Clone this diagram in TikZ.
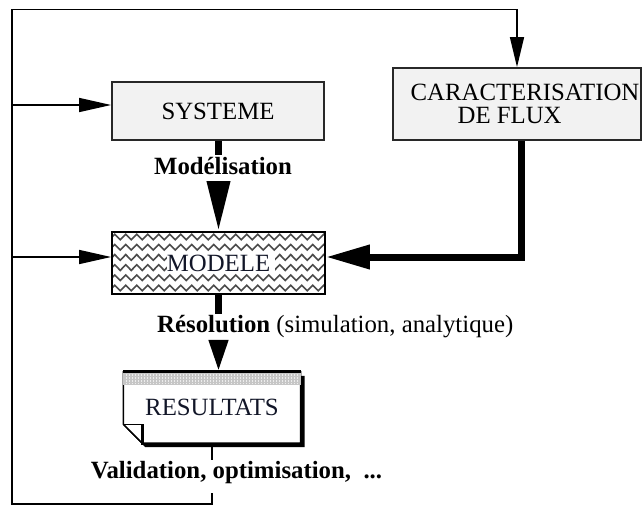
\documentclass[tikz,border=0pt]{standalone}
\usepackage{fontspec}
\setmainfont{Liberation Serif}
\usetikzlibrary{arrows.meta,decorations.pathmorphing,backgrounds}
\definecolor{boxfill}{RGB}{242,242,242}
\definecolor{boxline}{RGB}{40,40,40}
\definecolor{inktext}{RGB}{18,22,40}
\begin{document}
\begin{tikzpicture}[x=1pt,y=-1pt,
  font=\fontsize{24.8}{23.5}\selectfont,
  box/.style={draw=boxline, line width=1.8pt, fill=boxfill, inner sep=0pt},
  thinline/.style={line width=1.5pt, black},
  thickline/.style={line width=7pt, black},
  thinarrow/.style={thinline, -{Triangle[length=32pt,width=14pt]}},
  lbl/.style={inner sep=0pt},
  zig/.style={decorate, decoration={zigzag, segment length=11pt, amplitude=2.8pt},
              line width=1.6pt, black!70}
]
\useasboundingbox (0,0) rectangle (643,506);

% ---- blocks ----
\node[box, minimum width=212pt, minimum height=58pt] (sys) at (218,111) {SYSTEME};

\node[box, minimum width=248pt, minimum height=72pt, align=left] (car) at (517,104)
  {\hspace*{16pt}CARACTERISATION\\\hspace*{63pt}DE FLUX};

\node[draw=black, line width=1.8pt, inner sep=0pt, minimum width=213pt,
      minimum height=62pt, text=inktext,
      path picture={
        \foreach \r in {0,...,5}
          \draw[zig] ([yshift=-(5+10.2*\r)*1pt]path picture bounding box.north west) -- ++(240,0);
        \fill[white] (path picture bounding box.center) ++(-52,-10) rectangle ++(108,20);
      }] (mod) at (218.5,263) {MODELE};

\node[inner sep=0pt, minimum width=177pt, minimum height=71pt, text=inktext]
  (res) at (212,407.5) {RESULTATS};

% document shape with shadow, header band and folded corner
\begin{scope}[on background layer]
  \fill[black] ([shift={(4,4)}]res.north west) -- ([shift={(4,4)}]res.north east)
    -- ([shift={(4,4)}]res.south east) -- ([shift={(22,4)}]res.south west)
    -- ([shift={(4,-14)}]res.south west) -- cycle;
  \filldraw[fill=white, draw=black, line width=1.5pt]
    (res.north west) -- (res.north east) -- (res.south east)
    -- ([xshift=19pt]res.south west) -- ([shift={(0,-19)}]res.south west) -- cycle;
  \fill[gray!45] (res.north west) rectangle ([shift={(0,13)}]res.north east);
  \foreach \i in {1,...,58}
    \draw[gray!15, line width=0.9pt, dash pattern=on 2pt off 1pt] ([shift={(3*\i,2)}]res.north west) -- ++(0,10);
  \draw[black, line width=3pt] (res.north west) -- (res.north east);
  \fill[white] ([shift={(0,-19)}]res.south west) -- ([shift={(19,-19)}]res.south west)
    -- ([xshift=19pt]res.south west) -- cycle;
  \draw[black, line width=1.2pt] ([shift={(0,-19)}]res.south west) -- ([shift={(19,-19)}]res.south west);
  \draw[black, line width=3pt] ([shift={(19,-19)}]res.south west) -- ([shift={(19,2)}]res.south west);
  \draw[black, line width=1.5pt] ([shift={(0,-19)}]res.south west) -- ([xshift=19pt]res.south west);
\end{scope}

% ---- labels ----
\node[lbl, font=\fontsize{24.8}{26}\selectfont\bfseries] (modl) at (223,166) {Modélisation};
\node[lbl, anchor=west] (resl) at (157,327) {\textbf{Résolution} (simulation, analytique)};
\node[lbl, font=\fontsize{24.8}{26}\selectfont\bfseries] (val) at (236.5,473)
  {Validation, optimisation,\ \ ...};

% ---- thick flow ----
\draw[thickline, shorten >=2pt] (sys.south) -- (sys.south |- modl.north);
\draw[thickline, shorten <=7pt, -{Triangle[length=50pt,width=22pt]}]
  (mod.north |- modl.south) -- (mod.north);

\draw[thickline, shorten >=2pt] (mod.south) -- (mod.south |- resl.north);
\draw[thickline, shorten <=6pt, -{Triangle[length=32pt,width=18pt]}]
  (mod.south |- resl.south) -- (res.north -| mod.south);

\coordinate (cS) at ([xshift=4pt]car.south);
\coordinate (mE) at ([yshift=6pt]mod.east);
\draw[thickline, -{Triangle[length=44pt,width=23pt]}] (cS) -- (cS |- mE) -- (mE);

% ---- feedback loop ----
\coordinate (lt) at (12,9.5);
\coordinate (lb) at (12,504);
\coordinate (sA) at ([yshift=6pt]sys.west);
\coordinate (mA) at ([yshift=6pt]mod.west);

\draw[thinline, shorten >=2pt] ([yshift=-4pt]res.south) -- (res.south |- val.north);
\draw[thinline, shorten <=9pt, -{Triangle[length=30pt,width=14pt]}]
  (res.south |- val.south) -- (res.south |- lb) -- (lb) -- (lt) -- (car.north |- lt) -- (car.north);
\draw[thinarrow] (lt |- sA) -- (sA);
\draw[thinarrow] (lt |- mA) -- (mA);
\end{tikzpicture}
\end{document}
